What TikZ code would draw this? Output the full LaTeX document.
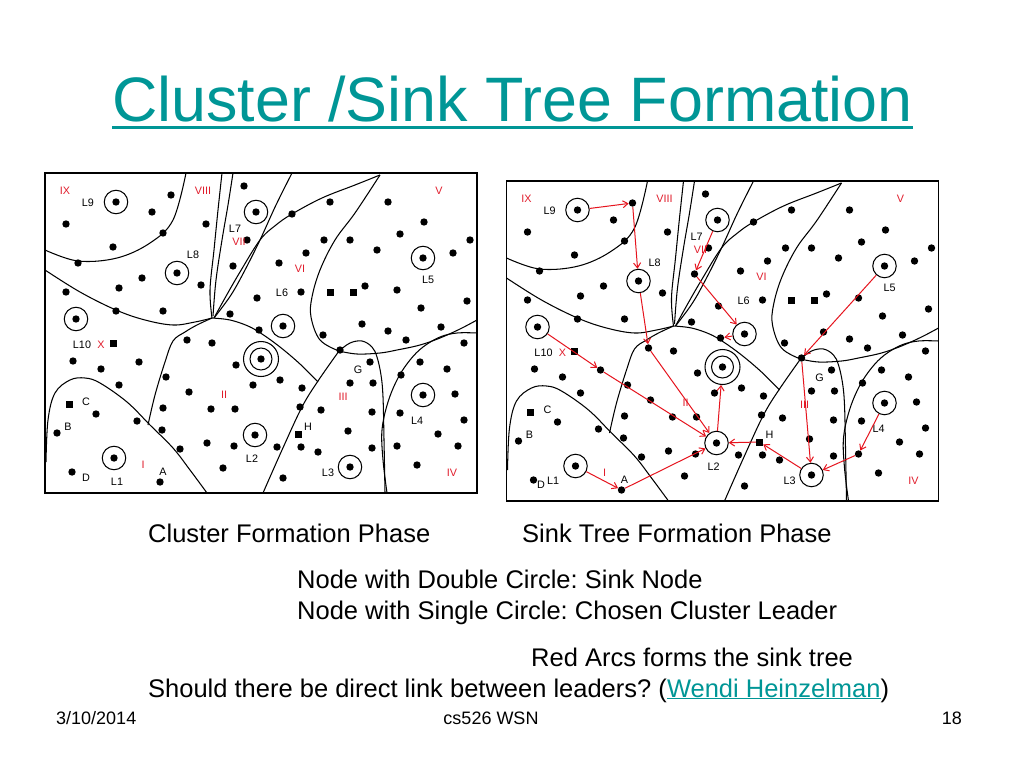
\documentclass[tikz,border=0pt]{standalone}
\usepackage{fontspec}
\setmainfont{Liberation Sans}
\usetikzlibrary{arrows.meta,calc}
\definecolor{ttl}{RGB}{0,150,150}
\definecolor{lblred}{RGB}{225,30,45}
\definecolor{arr}{RGB}{230,20,30}
\frenchspacing
\tikzset{
 pframe/.style={draw, line width=1.3pt},
 bnd/.style={draw, line width=1.05pt},
 dotn/.style={circle, fill, inner sep=0pt, minimum size=7.4pt},
 sqn/.style={rectangle, fill, inner sep=0pt, minimum size=7pt},
 leadn/.style={circle, draw, line width=1.05pt, inner sep=0pt, minimum size=23.5pt},
 sinko/.style={circle, draw, line width=1.05pt, inner sep=0pt, minimum size=35pt},
 sinki/.style={circle, draw, line width=1.05pt, inner sep=0pt, minimum size=22pt},
 lbl/.style={font=\fontsize{10.8}{12}\selectfont, inner sep=0pt},
 rlbl/.style={lbl, text=lblred},
 treearr/.style={draw=arr, line width=1pt, -{Straight Barb[length=5pt,width=7pt]}},
 bodytxt/.style={font=\fontsize{25.5}{30}\selectfont, inner sep=0pt, anchor=base west},
 foottxt/.style={font=\fontsize{18}{21}\selectfont, inner sep=0pt},
}
\newcommand\drawpanel[1]{%
  \draw[pframe] (45,173) rectangle (477,493);
  % region boundaries
  \draw[bnd] plot[smooth, tension=0.6] coordinates {(45,250) (78,261) (117,258) (150,243) (173,220) (186,173)};
  \draw[bnd] plot[smooth, tension=0.6] coordinates {(45,270) (80,292) (116,310) (145,320) (173,325) (195,322) (212,318)};
  \draw[bnd] plot[smooth, tension=0.6] coordinates {(222,173) (218,210) (214,250) (210,290) (212,318)};
  \draw[bnd] plot[smooth, tension=0.6] coordinates {(233,173) (228,205) (222,240) (216,280) (213,316)};
  \draw[bnd] plot[smooth, tension=0.6] coordinates {(292,173) (276,205) (260,240) (245,270) (231,295) (214,318)};
  \draw[bnd] plot[smooth, tension=0.6] coordinates {(214,318) (225,298) (240,272) (260,240) (276,225) (292,214) (322,198) (355,185) (380,175)};
  \draw[bnd] plot[smooth, tension=0.6] coordinates {(380,175) (355,213) (335,240) (320,270) (312,297) (311,317) (320,340) (339,351)};
  \draw[bnd] plot[smooth, tension=0.6] coordinates {(212,318) (230,320) (248,326) (262,334) (280,347) (300,364) (318,382)};
  \draw[bnd] plot[smooth, tension=0.6] coordinates {(212,318) (197,325) (185,332) (173,341) (165,362) (155,395) (148,425)};
  \draw[bnd] plot[smooth, tension=0.6] coordinates {(339,351) (318,381) (302,407) (282,450) (263,493)};
  \draw[bnd] plot[smooth, tension=0.6] coordinates {(339,351) (350,343) (362,341) (372,347) (377,357) (381,375) (383,397) (384,440) (385,493)};
  \draw[bnd] plot[smooth, tension=0.6] coordinates {(339,351) (357,354) (380,353) (397,350) (420,345) (440,338) (460,329) (477,320)};
  \draw[bnd] plot[smooth, tension=0.6] coordinates {(477,333) (457,333) (440,337) (423,347) (410,360) (398,378) (388,402) (382,430) (383,460) (387,493)};
  \draw[bnd] plot[smooth, tension=0.6] coordinates {(46,462) (48,420) (55,393) (70,380) (85,378) (100,383) (127,402) (150,425) (173,448) (190,470) (207,493)};
  % plain sensor nodes
  \foreach \p [count=\i] in {(152,212),(66,224),(163,233),(206,224),(113,247),(78,263),(142,278),(119,288),(201,285),(66,292),(116,311),(163,311),(244,186),(247,240),(257,298),(230,314),
    (330,202),(388,202),(292,214),(424,222),(400,234),(324,240),(350,240),(470,240),(377,250),(306,253),(453,253),(279,263),(301,292),(365,286),(397,290),(467,301),(421,308),(362,324),(388,331),(441,327),(323,335),
    (212,343),(73,361),(101,369),(236,365),(166,377),(253,385),(119,385),(189,392),(96,414),(163,408),(211,409),(235,409),(137,421),(57,433),(162,430),(207,443),(234,446),(180,449),(223,468),(72,472),
    (406,340),(464,343),(370,362),(420,362),(447,369),(280,380),(302,388),(350,383),(373,383),(401,375),(455,394),(300,407),(321,410),(372,412),(400,413),(464,420),(348,431),(438,434),(301,447),(277,447),(372,448),(458,446),(318,452),(417,465),(283,478)}
    \node[dotn] (#1d\i) at \p {};
  \foreach \p [count=\i] in {(330,292),(353,292),(113,343),(69,404)}
    \node[sqn] (#1s\i) at \p {};
  % sensor nodes used by the tree
  \node[dotn] (#1dTop) at (171,195) {};
  \node[dotn] (#1dL7) at (233,266) {};
  \node[dotn] (#1dL6) at (259,330) {};
  \node[dotn] (#1dM) at (187,340) {};
  \node[dotn] (#1dX) at (139,362) {};
  \node[dotn] (#1dA) at (160,482) {};
  \node[dotn] (#1dG) at (340,350) {};
  \node[sqn] (#1dH) at (298,434) {};
  \node[dotn] (#1dL4) at (397,446) {};
  % cluster leaders
  \foreach \n/\x/\y in {L9/116/202, L8/177/273, L10/76/319, L7/256/212, L6/283/326, L5/423/258, L1/114/458, L2/255/435, L3/350/467, L4/423/395}{
    \node[leadn] (#1\n) at (\x,\y) {};
    \node[dotn] (#1\n-c) at (\x,\y) {};
  }
  % sink
  \node[sinko] (#1sink) at (261,359) {};
  \node[sinki] (#1sink-in) at (261,359) {};
  \node[dotn] (#1sink-c) at (261,359) {};
  % labels
  \foreach \t/\x/\y in {L9/88/203, L7/235/229, L8/193/255, L6/282/293, L5/428/280, L10/82/345, G/358/370, C/86/402, B/68/427, L4/417/421, H/308/427, L2/252/459, A/163/472, L3/328/473}
    \node[lbl] (#1t-\t) at (\x,\y) {\t};
  \foreach \t/\x/\y in {IX/65/191, VIII/203/191, VII/239/242, V/439/191, VI/300/269, X/101/345, II/224/395, III/343/397, I/143/465, IV/452/473}
    \node[rlbl] (#1r-\t) at (\x,\y) {\t};
}
\begin{document}
\begin{tikzpicture}[x=1pt, y=-1pt]
\useasboundingbox[fill=white] (0,0) rectangle (1024,768);
% title
\node[anchor=base west, text=ttl, font=\fontsize{62.8}{70}\selectfont, inner sep=0pt] (title) at (112,121) {Cluster /Sink Tree Formation};
\draw[ttl, line width=3pt] ($(title.base west)+(0,6)$) -- ($(title.base east)+(0,6)$);
% left panel
\drawpanel{l}
\node[lbl] (lt-D) at (86,478) {D};
\node[lbl] (lt-L1) at (117,482) {L1};
% right panel
\begin{scope}[shift={(461.5,8)}]
\drawpanel{r}
\end{scope}
\node[lbl] (rt-D) at (541,485) {D};
\node[lbl] (rt-L1) at (553,481) {L1};
% sink tree arcs
\draw[treearr] (rL9) -- (rdTop);
\draw[treearr] (rdTop) -- (rL8);
\draw[treearr] (rL8) -- (rdM);
\draw[treearr] (rdM) -- (rL2);
\draw[treearr] (rL10) -- (rdX);
\draw[treearr] (rdX) -- (rL2);
\draw[treearr] (rL1) -- (rdA);
\draw[treearr] (rdA) -- (rL2);
\draw[treearr] (rL2) -- (rsink);
\draw[treearr] (rdH) -- (rL2);
\draw[treearr] (rL3) -- (rdH);
\draw[treearr] (rdG) -- (rL3);
\draw[treearr] (rL5) -- (rdG);
\draw[treearr] (rL4) -- (rdL4);
\draw[treearr] (rdL4) -- (rL3);
\draw[treearr] (rL7) -- (rdL7);
\draw[treearr] (rdL7) -- (rL6);
\draw[treearr] (rL6) -- (rdL6);
% captions and notes
\node[bodytxt] (cap1) at (148,542) {Cluster Formation Phase};
\node[bodytxt] (cap2) at (522,542) {Sink Tree Formation Phase};
\node[bodytxt] (note1) at (297,588) {Node with Double Circle: Sink Node};
\node[bodytxt] (note2) at (297,619) {Node with Single Circle: Chosen Cluster Leader};
\node[bodytxt] (note3) at (531,666) {Red Arcs forms the sink tree};
\node[bodytxt] (question) at (148,697) {Should there be direct link between leaders? (\textcolor{ttl}{\underline{Wendi Heinzelman}})};
% footer
\node[foottxt, anchor=base west] (footdate) at (56,724) {3/10/2014};
\node[foottxt, anchor=base] (footmid) at (491,724) {cs526 WSN};
\node[foottxt, anchor=base east] (footnum) at (962,724) {18};
\end{tikzpicture}
\end{document}
